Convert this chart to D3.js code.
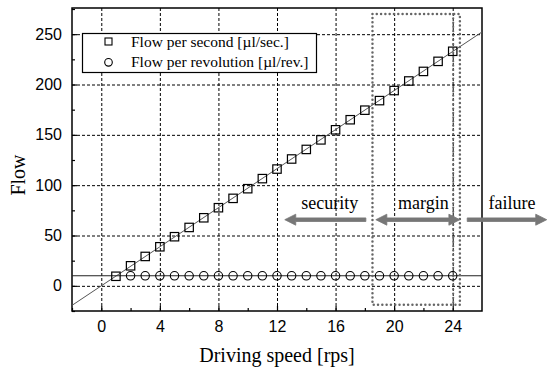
<!DOCTYPE html>
<html>
<head>
<meta charset="utf-8">
<style>
body { margin:0; background:#fff; }
</style>
</head>
<body>
<div id="chart"></div>
<script src="https://d3js.org/d3.v7.min.js"></script>
<script>

// data
var speed = [1,2,3,4,5,6,7,8,9,10,11,12,13,14,15,16,17,18,19,20,21,22,23,24];
var flowSec = [9.5,19.9,29.2,38.8,48.8,58,67.6,77.6,86.9,96.5,106.5,116,126,135.5,145,155,165,174.5,184,194,203.5,213,223,233];
var revSpeed = [2,3,4,5,6,7,8,9,10,11,12,13,14,15,16,17,18,19,20,21,22,23,24];
var flowRev = [10,10,10,10,10,10,10,10,10,10,10,10,10,10,10,10,10,10,10,10,10,10,10];
var fitX = [-2, 26];
var fitY = [-19.4, 252.2];
var revLevel = 10;
var xTicks = [0,4,8,12,16,20,24];
var yTicks = [0,50,100,150,200,250];
var legendLabels = ["Flow per second [\u00b5l/sec.]", "Flow per revolution [\u00b5l/rev.]"];
var zoneBox = [18.52, 24.49, -18.9, 270];   // x0, x1, y0, y1
var zoneLabels = ["security", "margin", "failure"];
var zoneLabelX = [15.6, 22.0, 28.05];
var arrowFrom = [18.07, 18.75, 24.99];
var arrowTo = [12.53, 24.49, 30.42];
var arrowLevel = 65.7;

var W = 547, H = 370;
var m = {left:72, top:8, right:65, bottom:59};
var w = W - m.left - m.right, h = H - m.top - m.bottom;

var svg = d3.select("#chart").append("svg")
    .attr("width", W).attr("height", H);

var x = d3.scaleLinear().domain([-2, 26]).range([m.left, m.left + w]);
var y = d3.scaleLinear().domain([-25, 276]).range([m.top + h, m.top]);

svg.append("clipPath").attr("id","clip")
   .append("rect").attr("x", m.left).attr("y", m.top).attr("width", w).attr("height", h);

// grid
var grid = svg.append("g").attr("stroke","#000").attr("stroke-width",1).attr("stroke-dasharray","3,2");
grid.selectAll(".gx").data(xTicks).enter().append("line")
   .attr("x1", d => x(d) + 0.5).attr("x2", d => x(d) + 0.5)
   .attr("y1", m.top).attr("y2", m.top + h);
grid.selectAll(".gy").data(yTicks).enter().append("line")
   .attr("y1", d => y(d) + 0.5).attr("y2", d => y(d) + 0.5)
   .attr("x1", m.left).attr("x2", m.left + w);

// axes (ticks inside)
var xAxis = d3.axisBottom(x).tickValues(xTicks).tickSizeInner(-5).tickSizeOuter(0).tickPadding(10);
var yAxis = d3.axisLeft(y).tickValues(yTicks).tickSizeInner(-5).tickSizeOuter(0).tickPadding(10);
svg.append("g").attr("transform","translate(0," + (m.top + h) + ")").call(xAxis);
svg.append("g").attr("transform","translate(" + m.left + ",0)").call(yAxis);
// minor ticks
svg.append("g").attr("transform","translate(0," + (m.top + h) + ")")
   .call(d3.axisBottom(x).tickValues(d3.range(-2, 26, 2).filter(d => d % 4 != 0)).tickSize(-3).tickFormat(""));
svg.append("g").attr("transform","translate(" + m.left + ",0)")
   .call(d3.axisLeft(y).tickValues([-25,25,75,125,175,225,275]).tickSize(-3).tickFormat(""));
svg.selectAll(".domain").remove();
svg.selectAll(".tick line").attr("stroke","#000").attr("stroke-width",1.2);
svg.selectAll(".tick text").style("font-family","'Liberation Sans', Arial, sans-serif").style("font-size","16px").attr("fill","#000");

// frame
svg.append("rect").attr("x", m.left).attr("y", m.top).attr("width", w).attr("height", h)
   .attr("fill","none").attr("stroke","#000").attr("stroke-width",1.5);

var plot = svg.append("g").attr("clip-path","url(#clip)");

// fit line & level line
plot.append("line")
   .attr("x1", x(fitX[0])).attr("y1", y(fitY[0]))
   .attr("x2", x(fitX[1])).attr("y2", y(fitY[1]))
   .attr("stroke","#555").attr("stroke-width",1);
svg.append("line")
   .attr("x1", m.left).attr("x2", m.left + w)
   .attr("y1", y(revLevel)).attr("y2", y(revLevel))
   .attr("stroke","#222").attr("stroke-width",1.2);

// zone box (round dots)
var dot = {stroke:"#666", width:2.5, dash:"0,4.3"};
svg.append("rect")
   .attr("x", x(zoneBox[0])).attr("y", y(zoneBox[3]))
   .attr("width", x(zoneBox[1]) - x(zoneBox[0])).attr("height", y(zoneBox[2]) - y(zoneBox[3]))
   .attr("fill","none").attr("stroke", dot.stroke).attr("stroke-width", dot.width)
   .attr("stroke-dasharray", dot.dash).attr("stroke-linecap","round");
svg.append("line")
   .attr("x1", x(24) + 0.5).attr("x2", x(24) + 0.5)
   .attr("y1", y(zoneBox[3])).attr("y2", y(zoneBox[2]))
   .attr("stroke", dot.stroke).attr("stroke-width", 2.2)
   .attr("stroke-dasharray", dot.dash).attr("stroke-linecap","round");

// markers
svg.selectAll(".circ").data(revSpeed).enter().append("circle")
   .attr("cx", d => x(d)).attr("cy", (d,i) => y(flowRev[i])).attr("r", 4.2)
   .attr("fill","none").attr("stroke","#000").attr("stroke-width",1.1);
svg.selectAll(".sq").data(speed).enter().append("rect")
   .attr("x", d => x(d) - 4.2).attr("y", (d,i) => y(flowSec[i]) - 4.2)
   .attr("width", 8.4).attr("height", 8.4)
   .attr("fill","none").attr("stroke","#000").attr("stroke-width",1.2);

// arrows
function arrow(x0, x1, yy, doubleHead) {
  var dir = x1 > x0 ? 1 : -1;
  var hl = 11, hw = 5.5, lw = 1.8;
  var a = x(x0), b = x(x1), c = y(yy);
  var d = "M" + (b) + "," + c +
          " L" + (b - dir*hl) + "," + (c - hw) +
          " L" + (b - dir*hl) + "," + (c - lw) +
          " L" + (doubleHead ? a + dir*hl : a) + "," + (c - lw);
  if (doubleHead) {
    d += " L" + (a + dir*hl) + "," + (c - hw) + " L" + a + "," + c +
         " L" + (a + dir*hl) + "," + (c + hw) + " L" + (a + dir*hl) + "," + (c + lw);
  } else {
    d += " L" + a + "," + (c + lw);
  }
  d += " L" + (b - dir*hl) + "," + (c + lw) + " L" + (b - dir*hl) + "," + (c + hw) + " Z";
  svg.append("path").attr("d", d).attr("fill","#777").attr("stroke","#777").attr("stroke-width",0.8).attr("stroke-linejoin","round");
}
arrowFrom.forEach(function(f, i) { arrow(f, arrowTo[i], arrowLevel, i == 1); });

svg.selectAll(".zl").data(zoneLabels).enter().append("text")
   .text(d => d)
   .attr("x", (d,i) => x(zoneLabelX[i])).attr("y", y(76))
   .attr("text-anchor","middle")
   .style("font-family","'Liberation Serif', 'Times New Roman', serif").style("font-size","18px");

// legend
var lg = svg.append("g");
lg.append("rect").attr("x", 82.5).attr("y", 33.5).attr("width", 234).attr("height", 39)
   .attr("fill","#fff").attr("stroke","#000").attr("stroke-width",1.2);
lg.append("rect").attr("x", 105).attr("y", 38).attr("width", 7).attr("height", 7)
   .attr("fill","none").attr("stroke","#000").attr("stroke-width",1.1);
lg.append("circle").attr("cx", 108.5).attr("cy", 62.3).attr("r", 3.8)
   .attr("fill","none").attr("stroke","#000").attr("stroke-width",1.1);
lg.selectAll(".lt").data(legendLabels).enter().append("text")
   .text(d => d)
   .attr("x", 131).attr("y", (d,i) => 47.3 + i * 19.5)
   .style("font-family","'Liberation Serif', 'Times New Roman', serif").style("font-size","15.5px");

// axis titles
svg.append("text").text("Driving speed [rps]")
   .attr("x", m.left + w / 2).attr("y", 362).attr("text-anchor","middle")
   .style("font-family","'Liberation Serif', 'Times New Roman', serif").style("font-size","20px");
svg.append("text").text("Flow")
   .attr("transform","translate(25,175) rotate(-90)").attr("text-anchor","middle")
   .style("font-family","'Liberation Serif', 'Times New Roman', serif").style("font-size","20px");

</script>
</body>
</html>
